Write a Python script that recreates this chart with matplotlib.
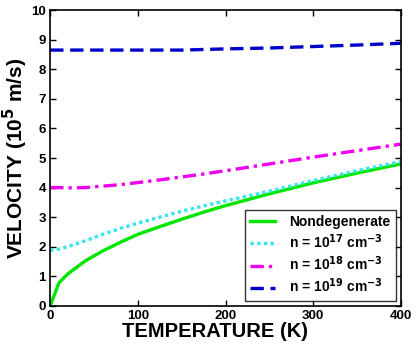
import matplotlib
matplotlib.use("Agg")
import matplotlib.pyplot as plt

plt.rcParams['font.family'] = ['Liberation Sans', 'DejaVu Sans']
plt.rcParams['font.weight'] = 'bold'

# temperature grid (K)
temp = [0, 10, 20, 40, 60, 80, 100, 125, 150, 175, 200, 250, 300, 350, 400]

# velocities in 1e5 m/s
v_nondeg = [0.0, 0.78, 1.08, 1.52, 1.86, 2.15, 2.42, 2.68, 2.93, 3.17, 3.39, 3.79, 4.16, 4.49, 4.80]
v_n17 = [1.88, 1.92, 2.0, 2.2, 2.42, 2.62, 2.8, 3.0, 3.2, 3.38, 3.55, 3.88, 4.24, 4.57, 4.88]
v_n18 = [4.0, 4.0, 3.99, 4.0, 4.05, 4.1, 4.17, 4.26, 4.36, 4.46, 4.57, 4.8, 5.03, 5.25, 5.47]
v_n19 = [8.65, 8.65, 8.65, 8.65, 8.65, 8.65, 8.65, 8.65, 8.65, 8.67, 8.69, 8.72, 8.77, 8.82, 8.88]

fig = plt.figure(figsize=(4.18, 3.5), dpi=100)
ax = fig.add_axes([0.12, 0.126, 0.839, 0.845])

ax.plot(temp, v_nondeg, color='#00e600', lw=2.4, label='Nondegenerate')
ax.plot(temp, v_n17, color='#33e6f0', lw=2.4, linestyle=(0, (1, 1)), label='n = 10$^{17}$ cm$^{-3}$')
ax.plot(temp, v_n18, color='#ee00ee', lw=2.4, linestyle=(0, (4, 1.5, 1, 1.5)), label='n = 10$^{18}$ cm$^{-3}$')
ax.plot(temp, v_n19, color='#0000cc', lw=2.4, linestyle=(0, (4, 2)), label='n = 10$^{19}$ cm$^{-3}$')

ax.set_xlim(0, 400)
ax.set_ylim(0, 10)
ax.set_xticks([0, 100, 200, 300, 400])
ax.set_yticks(range(0, 11))
ax.tick_params(direction='in', top=True, right=True, labelsize=9.5, length=4, width=1, pad=3)
for lab in ax.get_xticklabels() + ax.get_yticklabels():
    lab.set_fontweight('bold')
for s in ax.spines.values():
    s.set_linewidth(1.2)

ax.set_xlabel('TEMPERATURE (K)', fontsize=14.5, fontweight='bold')
ax.xaxis.set_label_coords(0.47, -0.055)
ax.set_ylabel('VELOCITY (10$^5$ m/s)', fontsize=15, fontweight='bold', labelpad=1)

leg = ax.legend(loc='lower right', frameon=True, fancybox=False,
                edgecolor='black', handlelength=1.8, handletextpad=1.0,
                borderaxespad=0.35, labelspacing=0.25,
                prop={'weight': 'bold', 'size': 10})
leg.get_frame().set_linewidth(1.0)

plt.savefig('out.png', dpi=100)
